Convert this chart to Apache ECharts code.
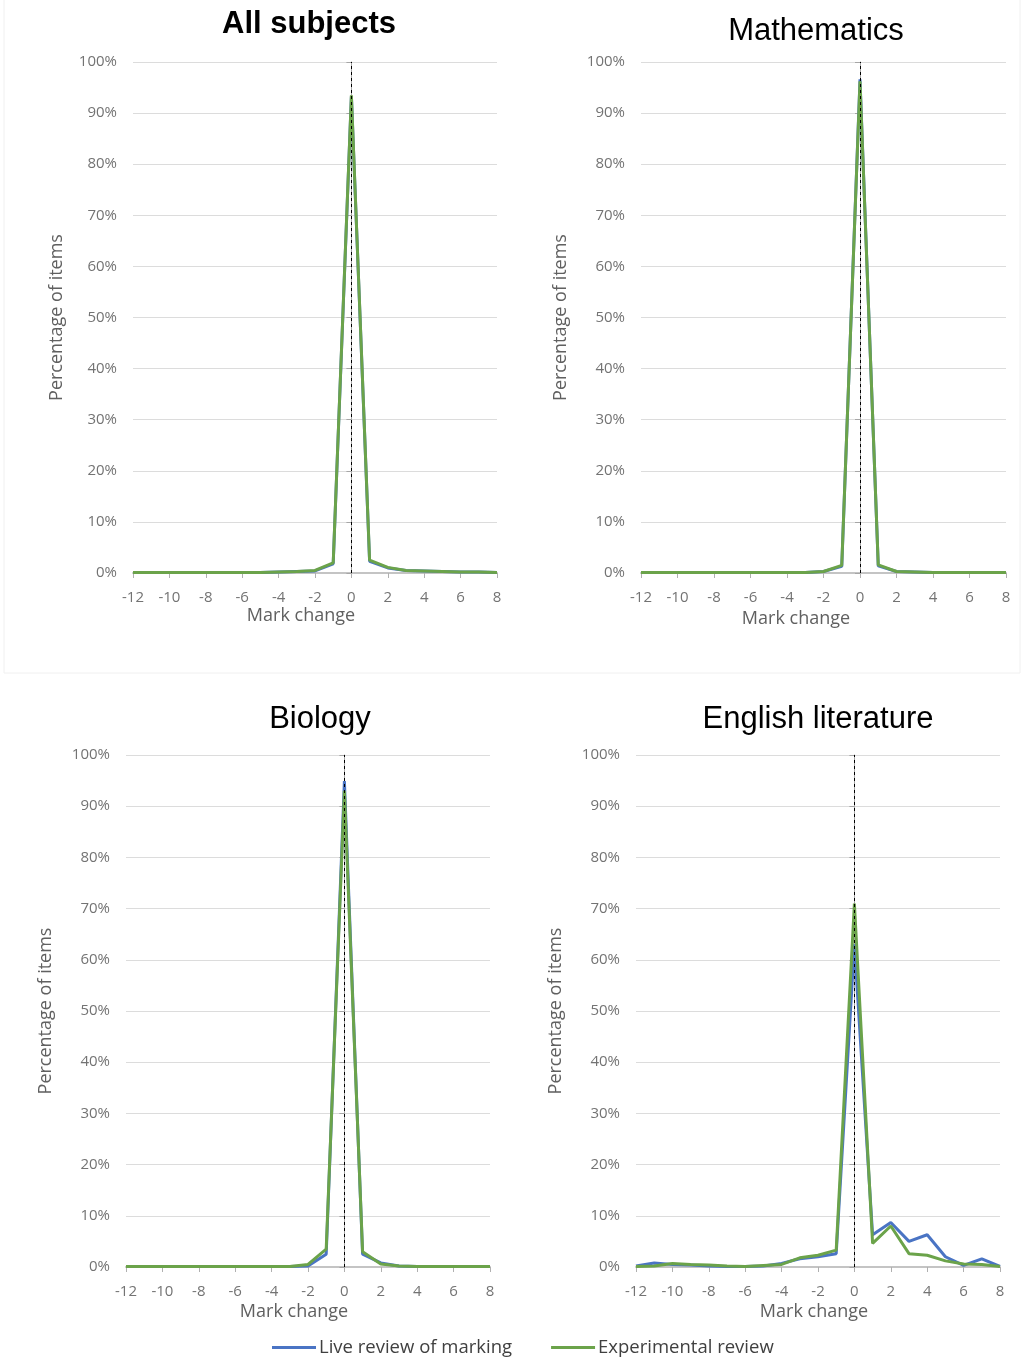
<!DOCTYPE html>
<html>
<head>
<meta charset="utf-8">
<script src="https://cdn.jsdelivr.net/npm/echarts@6/dist/echarts.min.js"></script>
<style>
html,body{margin:0;padding:0;background:#fff;}
#c{width:1029px;height:1361px;}
</style>
</head>
<body>
<div id="c"></div>
<script>
// ---- data ----
var markChange = [-12,-11,-10,-9,-8,-7,-6,-5,-4,-3,-2,-1,0,1,2,3,4,5,6,7,8];
var xTickLabels = ['-12','-10','-8','-6','-4','-2','0','2','4','6','8'];
var yTickLabels = ['0%','10%','20%','30%','40%','50%','60%','70%','80%','90%','100%'];
var seriesNames = ['Live review of marking','Experimental review'];
var panelTitles = ['All subjects','Mathematics','Biology','English literature'];

var allLive  = [0.1,0.1,0.1,0.1,0.1,0.1,0.1,0.1,0.2,0.3,0.4,1.8,93.3,2.3,1.0,0.5,0.4,0.3,0.2,0.2,0.1];
var allExp   = [0.1,0.1,0.1,0.1,0.1,0.1,0.1,0.1,0.2,0.3,0.5,2.0,93.5,2.5,1.1,0.5,0.4,0.3,0.2,0.2,0.1];
var mathLive = [0.1,0.1,0.1,0.1,0.1,0.1,0.1,0.1,0.1,0.1,0.3,1.3,96.6,1.4,0.3,0.2,0.1,0.1,0.1,0.1,0.1];
var mathExp  = [0.1,0.1,0.1,0.1,0.1,0.1,0.1,0.1,0.1,0.1,0.3,1.5,96.2,1.6,0.3,0.2,0.1,0.1,0.1,0.1,0.1];
var bioLive  = [0.1,0.1,0.1,0.1,0.1,0.1,0.1,0.1,0.1,0.1,0.2,2.5,94.9,2.5,0.8,0.2,0.1,0.1,0.1,0.1,0.1];
var bioExp   = [0.1,0.1,0.1,0.1,0.1,0.1,0.1,0.1,0.1,0.1,0.5,3.5,93.0,3.0,0.6,0.2,0.1,0.1,0.1,0.1,0.1];
var engLive  = [0.2,0.8,0.5,0.4,0.2,0.1,0.1,0.2,0.7,1.6,2.0,2.6,63.0,6.3,8.7,5.0,6.3,2.0,0.3,1.6,0.1];
var engExp   = [0.1,0.2,0.7,0.5,0.4,0.2,0.1,0.3,0.5,1.8,2.3,3.3,71.0,4.6,8.0,2.6,2.3,1.2,0.6,0.5,0.1];

var panelData = [[allLive, allExp],[mathLive, mathExp],[bioLive, bioExp],[engLive, engExp]];

// ---- layout ----
var grids = [
  {left:133, top:62,  width:364, height:511},
  {left:641, top:62,  width:365, height:511},
  {left:126, top:755, width:364, height:512},
  {left:636, top:755, width:364, height:512}
];
var titlePos = [[309,24,'bold'],[816,31,'normal'],[320,719,'normal'],[818,719,'normal']];
var xNamePos = [[301,616],[796,619],[294,1312],[814,1312]];
var yNameGap = [67,71,71,71];

var colors = ['#4a74c4','#6ba34a'];
var labelFont = '"Open Sans", "Liberation Sans", sans-serif';

function pairs(vals){ return markChange.map(function(m,i){ return [m, vals[i]]; }); }

var option = {
  animation:false,
  backgroundColor:'#fff',
  color: colors,
  legend:{
    left:272, top:1338, padding:0,
    icon:'rect', itemWidth:44, itemHeight:3, itemGap:39,
    textStyle:{fontFamily:labelFont, fontSize:18.5, color:'#404040', padding:[0,0,0,-2]},
    data: seriesNames
  },
  grid: grids.map(function(g){ return Object.assign({containLabel:false}, g); }),
  xAxis: grids.map(function(g,i){
    return {
      gridIndex:i, type:'value', min:-12, max:8, interval:2,
      axisLine:{show:true, onZero:false, lineStyle:{color:'#c4c4c4', width:2}},
      axisTick:{show:true, length:5, lineStyle:{color:'#b0b0b0'}},
      axisLabel:{fontFamily:labelFont, fontSize:15, color:'#737373', margin:17,
        formatter:function(v){ var s=String(v); return xTickLabels.indexOf(s)>=0 ? s : ''; }},
      splitLine:{show:false}
    };
  }),
  yAxis: grids.map(function(g,i){
    return {
      gridIndex:i, type:'value', min:0, max:100, interval:10,
      name:'Percentage of items', nameLocation:'middle', nameGap:yNameGap[i],
      nameTextStyle:{fontFamily:labelFont, fontSize:18, color:'#606060'},
      axisLine:{show:true, lineStyle:{color:'#a6a6a6', width:1}},
      axisTick:{show:true, length:5, lineStyle:{color:'#a6a6a6'}},
      axisLabel:{fontFamily:labelFont, fontSize:15, color:'#737373', margin:16,
        formatter:function(v){ return yTickLabels[Math.round(v/10)]; }},
      splitLine:{show:true, lineStyle:{color:'#dcdcdc', width:1}}
    };
  }),
  series: [],
  graphic: []
};

panelData.forEach(function(pd, i){
  pd.forEach(function(vals, s){
    var ser = {
      name: seriesNames[s], type:'line', xAxisIndex:i, yAxisIndex:i,
      data: pairs(vals), symbol:'none', showSymbol:false,
      lineStyle:{width:3, color:colors[s]}, itemStyle:{color:colors[s]},
      z: 2 + s
    };
    if (s === 1) {
      ser.markLine = {
        silent:true, symbol:['none','none'], label:{show:false},
        lineStyle:{color:'#000', type:[3,3], width:1},
        data:[{xAxis:0}], z:5
      };
    }
    option.series.push(ser);
  });
});

// faint frame around the top panels
option.graphic.push({type:'rect', shape:{x:4, y:-1, width:1016, height:674},
  style:{fill:'none', stroke:'#f0f0f0', lineWidth:1}, z:-1, silent:true});

panelTitles.forEach(function(t, i){
  option.graphic.push({type:'text', x:titlePos[i][0], y:titlePos[i][1], silent:true,
    style:{text:t, fontFamily:'"Liberation Sans", Arial, sans-serif', fontSize:31,
      fontWeight:titlePos[i][2], fill:'#000', textAlign:'center', textVerticalAlign:'middle'}});
  option.graphic.push({type:'text', x:xNamePos[i][0], y:xNamePos[i][1], silent:true,
    style:{text:'Mark change', fontFamily:labelFont, fontSize:18, fill:'#606060',
      textAlign:'center', textVerticalAlign:'middle'}});
});

var chart = echarts.init(document.getElementById('c'), null, {renderer:'canvas'});
chart.setOption(option);
</script>
</body>
</html>
